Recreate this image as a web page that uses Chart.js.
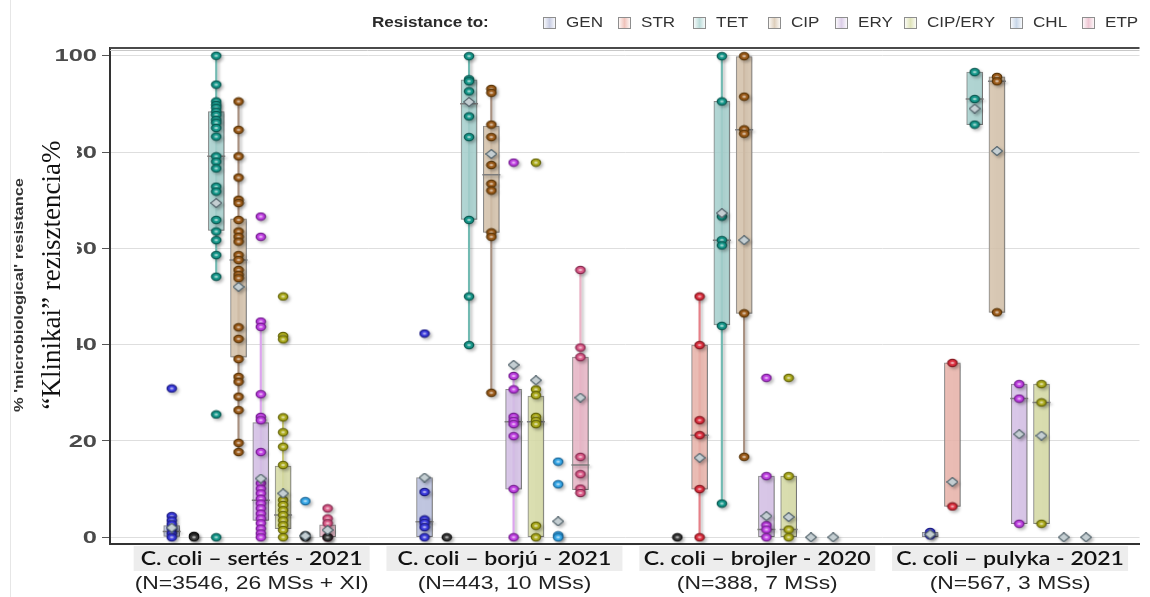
<!DOCTYPE html>
<html>
<head>
<meta charset="utf-8">
<script src="https://cdn.jsdelivr.net/npm/chart.js@4.4.1/dist/chart.umd.min.js"></script>
<style>
  html, body { margin: 0; padding: 0; background: #fff; }
  #wrap { width: 1150px; height: 597px; position: relative; }
</style>
</head>
<body>
<div id="wrap"><canvas id="chart" width="1150" height="597"></canvas></div>
<script>
// --- data ---
const groupLabels = ['C. coli – sertés - 2021', 'C. coli – borjú - 2021', 'C. coli – brojler - 2020', 'C. coli – pulyka - 2021'];
const groupNotes = ['(N=3546, 26 MSs + XI)', '(N=443, 10 MSs)', '(N=388, 7 MSs)', '(N=567, 3 MSs)'];
const drugs = ['GEN', 'STR', 'TET', 'CIP', 'ERY', 'CIP/ERY', 'CHL', 'ETP'];
const yTicks = [0, 20, 40, 60, 80, 100];

// country values, [drug][group]
const points = [
  [[30.9, 4.4, 3.5, 2.7, 1.8, 0.8, 0], [42.3, 9.4, 3.7, 3.0, 2.1, 0], [], [1.1, 0.4]],
  [[], [], [50.0, 39.9, 24.3, 21.2, 10.0, 0], [36.2, 6.4]],
  [[100, 94.0, 90.5, 89.8, 89.2, 88.4, 87.7, 86.7, 86.1, 85.0, 83.2, 79.1, 78.0, 76.6, 72.8, 71.8, 65.9, 63.5, 61.7, 58.6, 54.1, 25.5, 0],
   [99.9, 95.1, 94.7, 92.6, 87.4, 83.1, 65.9, 50.0, 39.9],
   [99.9, 90.5, 66.6, 61.7, 60.6, 43.9, 7.0],
   [96.6, 91.0, 85.7]],
  [[90.5, 84.6, 79.1, 74.7, 70.1, 69.4, 65.9, 63.5, 62.4, 61.4, 58.6, 57.6, 55.5, 54.5, 53.8, 43.6, 41.2, 37.0, 33.3, 32.3, 29.2, 26.4, 19.6, 17.7],
   [93.1, 92.3, 85.7, 83.1, 77.3, 73.4, 72.0, 63.3, 62.4, 30.0],
   [99.9, 91.5, 84.7, 83.8, 46.5, 16.7],
   [95.6, 94.7, 46.7]],
  [[66.6, 62.4, 44.8, 43.7, 29.7, 25.0, 24.3, 17.7, 11.2, 10.1, 9.1, 8.0, 7.0, 6.0, 4.9, 3.9, 2.9, 1.8, 0.8, 0],
   [77.8, 33.5, 30.7, 25.0, 24.2, 23.5, 21.0, 10.0, 0],
   [33.1, 12.7, 2.5, 1.6, 0],
   [31.8, 28.8, 2.8]],
  [[50.0, 41.8, 41.1, 24.9, 21.8, 18.8, 15.0, 7.7, 6.7, 5.6, 4.6, 3.5, 2.5, 1.5, 0],
   [77.8, 30.7, 29.5, 25.0, 24.2, 23.5, 2.4, 0],
   [33.1, 12.7, 1.6, 0],
   [31.8, 28.0, 2.8]],
  [[7.5], [15.7, 11.0, 0.4, 0], [], []],
  [[6.0, 3.9, 2.9, 0], [55.5, 39.4, 37.4, 16.7, 13.1, 10.1, 9.2], [], []]
];
// overlapping points at zero that show up as a dark blob
const darkPoints = [
  [[], [], [0], []],
  [[0.3, 0], [0], [], []],
  [[], [], [], []],
  [[], [], [], []],
  [[], [], [], []],
  [[], [], [], []],
  [[0.4, 0], [], [], []],
  [[0], [], [], []]
];
const boxLow = [
  [0.2, 0, null, 0], [null, null, 10.0, 6.4], [63.7, 66.0, 44.1, 85.7], [37.4, 63.3, 46.5, 46.7],
  [3.5, 10.0, 0, 2.8], [1.8, 0, 0, 2.8], [null, null, null, null], [0, 9.9, null, null]
];
const boxHigh = [
  [2.4, 12.4, null, 1.0], [null, null, 39.9, 36.2], [88.4, 95.0, 90.5, 96.6], [66.1, 85.4, 99.8, 95.6],
  [23.8, 30.7, 12.7, 31.8], [14.8, 29.3, 12.7, 31.8], [null, null, null, null], [2.6, 37.4, null, null]
];
const medians = [
  [1.2, 3.2, null, null], [null, null, 21.2, null], [79.1, 90.0, 61.7, 91.0], [57.6, 75.3, 84.6, 94.7],
  [7.7, 24.0, 1.6, 28.8], [4.6, 24.0, 1.6, 28.0], [null, null, null, null], [null, 15.0, null, null]
];
const means = [
  [2.0, 12.4, null, 0.6], [null, null, 16.5, 11.5], [69.4, 90.4, 67.3, 89.0], [52.0, 79.6, 61.7, 80.2],
  [12.2, 35.8, 4.4, 21.4], [9.1, 32.6, 4.2, 21.1], [0.3, 3.3, 0, 0], [1.5, 29.0, 0, 0]
];
const whiskerLow = [
  [null, null, null, null], [null, null, 0, null], [54.1, 39.9, 7.0, null], [17.7, 30.0, 16.7, null],
  [0, 0, null, null], [0, null, null, null], [null, null, null, null], [null, 9.2, null, null]
];
const whiskerHigh = [
  [null, null, null, null], [null, null, 50.0, null], [100, 99.9, 99.9, null], [90.5, 93.1, 100, null],
  [44.8, 33.5, null, null], [24.9, null, null, null], [null, null, null, null], [null, 55.5, null, null]
];

// --- styles ---
const dotColors = ['#3c3cdc', '#dc3040', '#17998c', '#9c5c1c', '#c042e2', '#acab1e', '#38a8e8', '#da5c88'];
const dotEdges = ['#1c1c86', '#861820', '#0a5a52', '#5c3608', '#761e92', '#666608', '#1a689a', '#882a50'];
const boxFills = ['rgba(190,198,228,0.85)', 'rgba(240,186,176,0.85)', 'rgba(172,214,212,0.85)', 'rgba(218,200,176,0.85)',
                  'rgba(218,198,236,0.85)', 'rgba(220,224,170,0.85)', 'rgba(190,208,232,0.85)', 'rgba(238,188,204,0.85)'];
const legendFills = ['#c8cde3', '#f0c3bb', '#bcdcda', '#decfbc', '#ddcfe9', '#e0e4bb', '#c8d6e8', '#eec6d3'];
const whiskerColors = ['#9090d8', '#e68088', '#72bab2', '#a89080', '#dca4ee', '#c8c878', '#90c0e4', '#ecb2c6'];

const groupStep = 11.35;
const pos = (g, d) => g * groupStep + d;

function makeDot(fill, edge) {
  const c = document.createElement('canvas');
  c.width = 12; c.height = 10;
  const x = c.getContext('2d');
  x.beginPath(); x.ellipse(6, 5, 5.3, 4.2, 0, 0, Math.PI * 2); x.fillStyle = edge; x.fill();
  x.beginPath(); x.ellipse(6, 5, 3.9, 3.0, 0, 0, Math.PI * 2); x.fillStyle = fill; x.fill();
  x.beginPath(); x.ellipse(6, 5, 1.8, 1.3, 0, 0, Math.PI * 2); x.fillStyle = 'rgba(255,255,255,0.55)'; x.fill();
  return c;
}
function makeDiamond() {
  const c = document.createElement('canvas');
  c.width = 12; c.height = 10;
  const x = c.getContext('2d');
  x.beginPath(); x.moveTo(6, 0.5); x.lineTo(11.5, 5); x.lineTo(6, 9.5); x.lineTo(0.5, 5); x.closePath();
  x.fillStyle = '#c4ced2'; x.fill(); x.lineWidth = 1.2; x.strokeStyle = '#56666e'; x.stroke();
  return c;
}
const diamond = makeDiamond();
const darkDot = makeDot('#3a3a3a', '#111');

const datasets = [];
drugs.forEach((name, d) => {
  const wData = [], bData = [], mData = [], aData = [], pData = [], kData = [];
  for (let g = 0; g < groupLabels.length; g++) {
    const x = pos(g, d);
    if (whiskerLow[d][g] != null) wData.push({ x, y: [whiskerLow[d][g], whiskerHigh[d][g]] });
    if (boxLow[d][g] != null) bData.push({ x, y: [boxLow[d][g], boxHigh[d][g]] });
    if (medians[d][g] != null) mData.push({ x, y: medians[d][g] });
    if (means[d][g] != null) aData.push({ x, y: means[d][g] });
    points[d][g].forEach(v => pData.push({ x, y: v }));
    darkPoints[d][g].forEach(v => kData.push({ x, y: v }));
  }
  datasets.push({ type: 'bar', label: name + ' range', data: wData, grouped: false, barThickness: 1.5,
    backgroundColor: whiskerColors[d], borderWidth: 0, order: 6 });
  datasets.push({ type: 'bar', label: name, data: bData, grouped: false, barThickness: 16,
    backgroundColor: boxFills[d], borderColor: '#8c8c8c', borderWidth: 1, borderSkipped: false, order: 5 });
  datasets.push({ type: 'scatter', label: name + ' median', data: mData, pointStyle: 'line', pointRadius: 9,
    borderColor: '#7c7c7c', borderWidth: 1.5, order: 4 });
  datasets.push({ type: 'scatter', label: name + ' values', data: pData, pointStyle: makeDot(dotColors[d], dotEdges[d]), order: 3 });
  datasets.push({ type: 'scatter', label: name + ' zero', data: kData, pointStyle: darkDot, order: 2 });
  datasets.push({ type: 'scatter', label: name + ' mean', data: aData, pointStyle: diamond, order: 1 });
});

const shadow = {
  id: 'shadow',
  beforeDatasetsDraw(chart) {
    const c = chart.ctx;
    c.save();
    c.shadowColor = 'rgba(0,0,0,0.28)';
    c.shadowBlur = 3;
    c.shadowOffsetX = 2;
    c.shadowOffsetY = 2;
  },
  afterDatasetsDraw(chart) { chart.ctx.restore(); }
};

function stretchedText(c, text, x, y, sx, align) {
  c.save();
  c.translate(x, y);
  c.scale(sx, 1);
  c.textAlign = align;
  c.fillText(text, 0, 0);
  c.restore();
}

const decor = {
  id: 'decor',
  afterDraw(chart) {
    const c = chart.ctx;
    const a = chart.chartArea;
    const ys = chart.scales.y, xs = chart.scales.x;

    // faint left page edge
    c.save();
    c.strokeStyle = '#e6e6e6'; c.lineWidth = 1;
    c.beginPath(); c.moveTo(10.5, 0); c.lineTo(10.5, 597); c.stroke();

    // top frame line (double)
    c.strokeStyle = '#4a4a4a'; c.lineWidth = 2;
    c.beginPath(); c.moveTo(a.left, a.top); c.lineTo(a.right, a.top); c.stroke();
    c.strokeStyle = '#c8c8c8'; c.lineWidth = 1;
    c.beginPath(); c.moveTo(a.left, a.top + 2.5); c.lineTo(a.right, a.top + 2.5); c.stroke();

    // y tick labels
    c.fillStyle = '#4a4a4a';
    c.font = 'bold 17px "Liberation Sans", Arial, sans-serif';
    c.textBaseline = 'middle';
    yTicks.forEach(v => stretchedText(c, String(v), 97, ys.getPixelForValue(v) + 1, 1.5, 'right'));

    // small axis title
    c.save();
    c.translate(19, 295);
    c.rotate(-Math.PI / 2);
    c.font = 'bold 13px "Liberation Sans", Arial, sans-serif';
    c.fillStyle = '#333';
    const t1 = "% 'microbiological' resistance";
    const w1 = c.measureText(t1).width;
    c.scale(234 / w1, 1);
    c.textAlign = 'center';
    c.fillText(t1, 0, 0);
    c.restore();

    // overlaid Hungarian label on a white patch
    c.save();
    c.fillStyle = '#fff';
    c.fillRect(35, 134, 42, 282);
    c.translate(53, 275);
    c.rotate(-Math.PI / 2);
    c.font = '27px "Liberation Serif", "Times New Roman", serif';
    c.fillStyle = '#111';
    c.textAlign = 'center';
    c.textBaseline = 'middle';
    c.fillText('“Klinikai” rezisztencia%', 0, 0);
    c.restore();

    // group labels
    const titleFont = '600 20px Lato, "Open Sans", sans-serif';
    c.font = titleFont;
    const tScale = 222 / c.measureText(groupLabels[0]).width;
    c.font = '18px "Liberation Sans", Arial, sans-serif';
    const nScale = 234 / c.measureText(groupNotes[0]).width;
    groupLabels.forEach((lab, g) => {
      const cx = xs.getPixelForValue(pos(g, 3.5)) + 2;
      c.fillStyle = '#ededed';
      c.fillRect(cx - 118, 546, 236, 25);
      c.fillStyle = '#111';
      c.font = titleFont;
      c.textBaseline = 'middle';
      stretchedText(c, lab, cx, 559, tScale, 'center');
      c.fillStyle = '#222';
      c.font = '18px "Liberation Sans", Arial, sans-serif';
      stretchedText(c, groupNotes[g], cx, 584, nScale, 'center');
    });

    // legend
    c.fillStyle = '#2a2a2a';
    c.font = 'bold 14px "Liberation Sans", Arial, sans-serif';
    c.textBaseline = 'middle';
    stretchedText(c, 'Resistance to:', 372, 23, 1.22, 'left');
    const legendX = [543, 618, 693, 768, 835, 904, 1010, 1082];
    c.font = '14px "Liberation Sans", Arial, sans-serif';
    drugs.forEach((name, d) => {
      const lx = legendX[d];
      const grd = c.createLinearGradient(lx, 0, lx + 13, 0);
      grd.addColorStop(0, '#ffffff');
      grd.addColorStop(0.5, legendFills[d]);
      grd.addColorStop(1, '#ffffff');
      c.fillStyle = grd;
      c.fillRect(lx, 17, 13, 12);
      c.strokeStyle = '#8e8e8e'; c.lineWidth = 1;
      c.strokeRect(lx + 0.5, 17.5, 12, 11);
      c.fillStyle = '#333';
      stretchedText(c, name, lx + 23, 23, 1.22, 'left');
    });
    c.restore();
  }
};

new Chart(document.getElementById('chart'), {
  type: 'scatter',
  data: { datasets },
  options: {
    responsive: false,
    animation: false,
    events: [],
    devicePixelRatio: 1,
    layout: { padding: { top: 48, bottom: 53, left: 0, right: 0 } },
    plugins: { legend: { display: false }, tooltip: { enabled: false } },
    scales: {
      x: {
        type: 'linear', min: -2.77, max: 43.45, offset: false,
        grid: { display: false },
        ticks: { display: false },
        border: { display: true, color: '#333', width: 2 },
        afterFit(s) { s.height = 0; }
      },
      y: {
        type: 'linear', min: -1.4, max: 101.6,
        afterBuildTicks(s) { s.ticks = yTicks.map(v => ({ value: v })); },
        grid: { color: '#dedede', lineWidth: 1, tickColor: '#555', tickLength: 8, drawTicks: true },
        ticks: { display: false },
        border: { display: true, color: '#333', width: 2 },
        afterFit(s) { s.width = 110; }
      }
    }
  },
  plugins: [shadow, decor]
});
</script>
</body>
</html>
